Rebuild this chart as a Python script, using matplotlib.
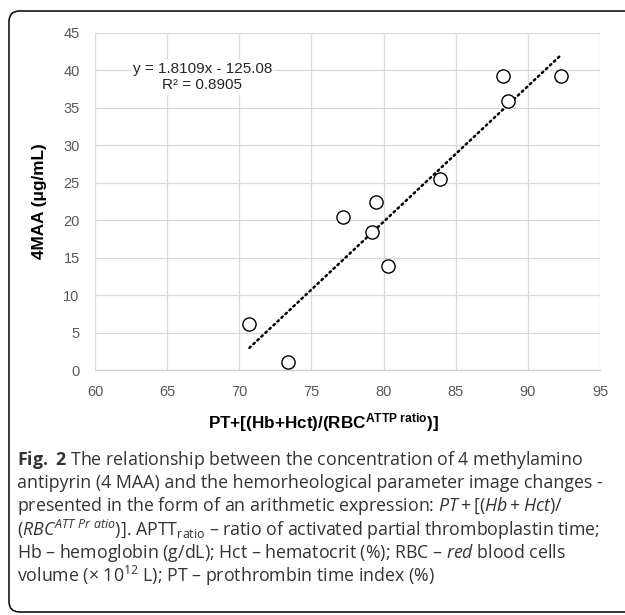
import matplotlib
matplotlib.use("Agg")
import matplotlib.pyplot as plt
from matplotlib.patches import FancyBboxPatch
import numpy as np

plt.rcParams["font.family"] = ["Liberation Sans", "DejaVu Sans"]
plt.rcParams["mathtext.fontset"] = "custom"
plt.rcParams["mathtext.rm"] = "Open Sans"
plt.rcParams["mathtext.it"] = "Open Sans:italic"
plt.rcParams["mathtext.bf"] = "Open Sans:bold"
plt.rcParams["mathtext.sf"] = "Liberation Sans:bold"

# data
pt_expr = [70.7, 73.4, 77.2, 79.5, 79.2, 80.3, 83.9, 88.3, 88.6, 92.3]
maa = [6.2, 1.1, 20.4, 22.4, 18.4, 13.9, 25.5, 39.3, 35.9, 39.3]
slope = 1.8109
intercept = -125.08
r2 = 0.8905
xticks = [60, 65, 70, 75, 80, 85, 90, 95]
yticks = [0, 5, 10, 15, 20, 25, 30, 35, 40, 45]

caption = [
    r"$\mathbf{Fig.\ 2}$ The relationship between the concentration of 4 methylamino",
    "antipyrin (4 MAA) and the hemorheological parameter image changes -",
    r"presented in the form of an arithmetic expression: $PT + [(Hb + Hct)/$",
    r"$(RBC^{ATT\ Pr\ atio})]$. APTT$_{\mathrm{ratio}}$ – ratio of activated partial thromboplastin time;",
    r"Hb – hemoglobin (g/dL); Hct – hematocrit (%); RBC – $\mathit{red}$ blood cells",
    r"volume (× $10^{12}$ L); PT – prothrombin time index (%)",
]

W, H = 625, 615
fig = plt.figure(figsize=(W / 100, H / 100), dpi=100)

# rounded frame around the figure
frame = FancyBboxPatch((9 / W, 1 - 612 / H), 1.05, (612 - 11) / H,
                       boxstyle="round,pad=0,rounding_size=0.017",
                       transform=fig.transFigure, fill=False,
                       edgecolor="black", linewidth=1.1)
fig.patches.append(frame)

ax = fig.add_axes([95 / W, 1 - 370 / H, (600 - 95) / W, (370 - 33) / H])
ax.set_xlim(60, 95)
ax.set_ylim(0, 45)
ax.set_xticks(xticks)
ax.set_yticks(yticks)
ax.grid(True, color="#d9d9d9", linewidth=0.9)
ax.set_axisbelow(True)
for s in ["top", "right", "left"]:
    ax.spines[s].set_visible(False)
ax.spines["bottom"].set_color("#d0d0d0")
ax.spines["bottom"].set_linewidth(0.9)
ax.tick_params(length=0, labelsize=10.5, labelcolor="#595959")
ax.tick_params(axis="x", pad=11)
ax.tick_params(axis="y", pad=11)

xs = np.array([min(pt_expr), max(pt_expr)])
ax.plot(xs, slope * xs + intercept, color="black", linewidth=1.8,
        linestyle=(0, (0.7, 1.5)), dash_capstyle="round", zorder=2)
ax.plot(pt_expr, maa, "o", markersize=9.5, markerfacecolor="white",
        markeredgecolor="black", markeredgewidth=1.0, zorder=3)

ax.text(67.45, 40.2, "y = 1.8109x - 125.08", fontsize=11, ha="center", va="center",
        color="#262626", bbox=dict(facecolor="white", edgecolor="none", pad=1.5))
ax.text(67.45, 38.0, "R² = {:.4f}".format(r2), fontsize=11, ha="center", va="center",
        color="#262626", bbox=dict(facecolor="white", edgecolor="none", pad=1.5))

ax.set_ylabel("4MAA (μg/mL)", fontsize=12.3, fontweight="bold")
ax.yaxis.set_label_coords(-38 / 505 - 0.02, 0.5)
ax.set_xlabel(r"PT+[(Hb+Hct)/(RBC$^{\mathsf{ATTP\ ratio}}$)]", fontsize=12.3,
              fontweight="bold")
ax.xaxis.set_label_coords((323 - 95) / 505, -(423 - 370) / 337, transform=ax.transAxes)
ax.xaxis.label.set_va("center")

y0 = 460
for i, line in enumerate(caption):
    fig.text(17 / W, 1 - (y0 + i * 23.2) / H, line, fontsize=12.8, family="Open Sans",
             color="#333333", ha="left", va="center")

fig.savefig("out.png", dpi=100)
